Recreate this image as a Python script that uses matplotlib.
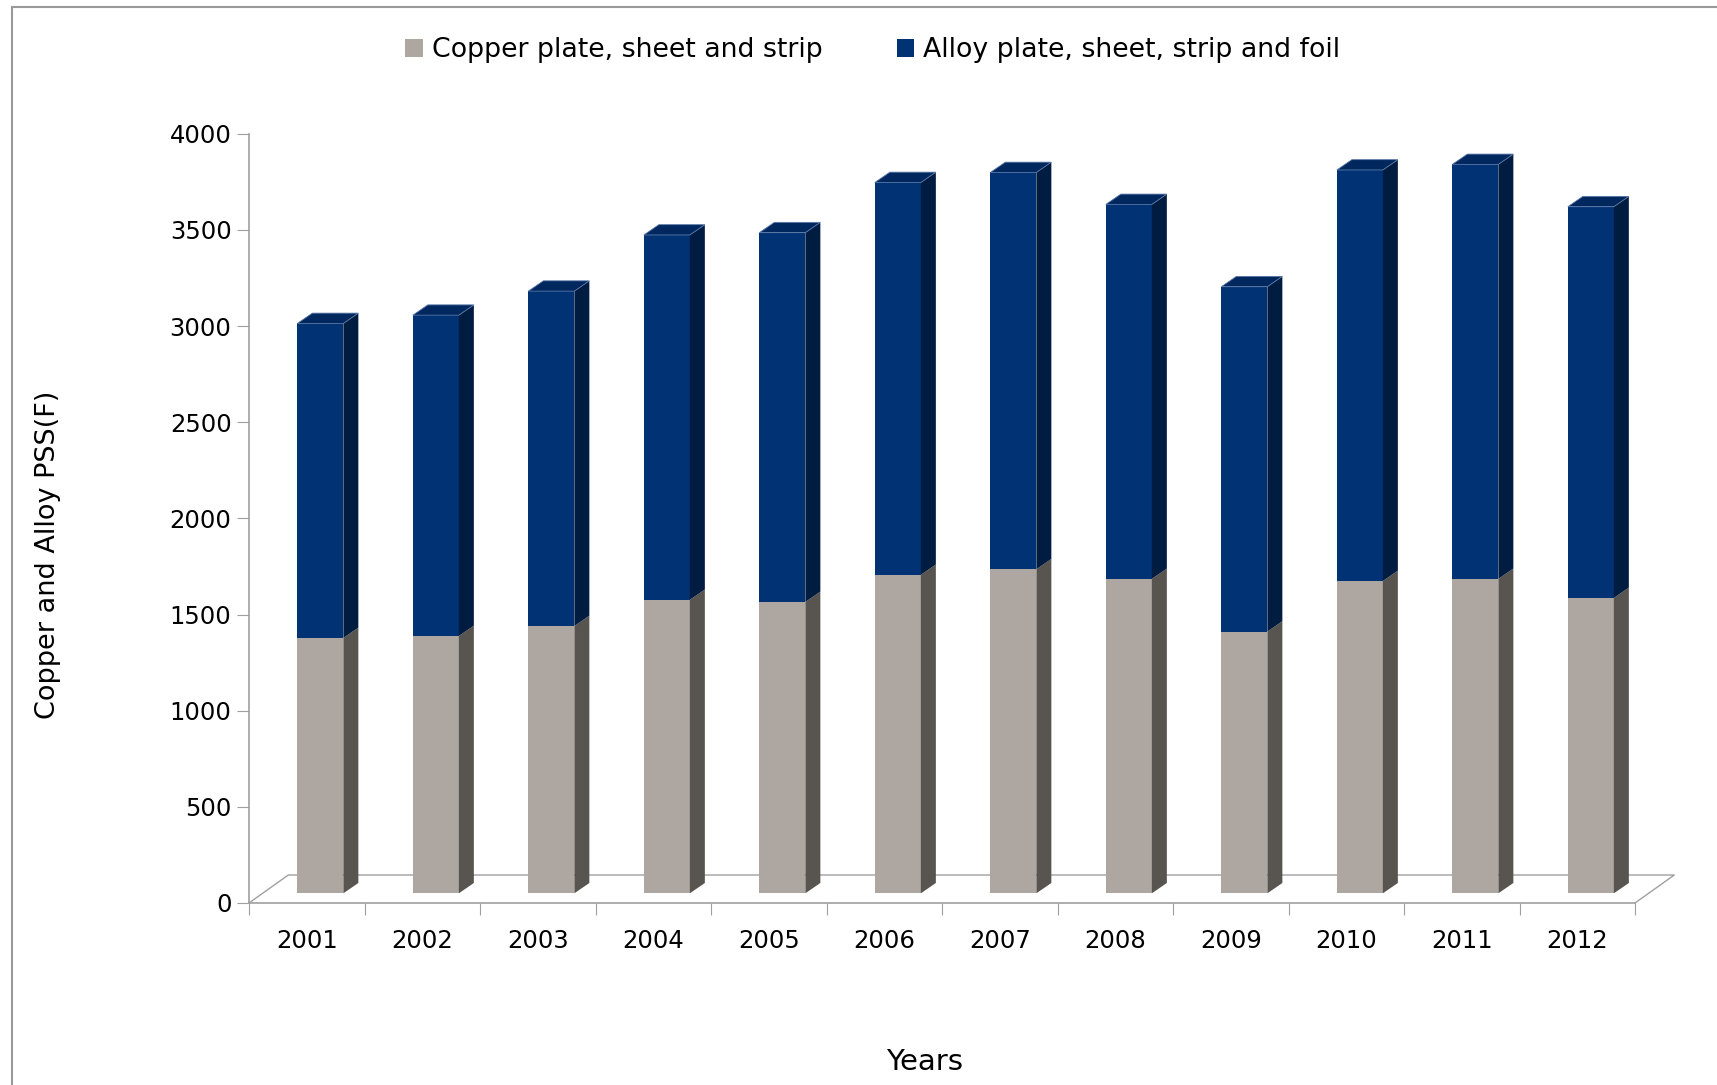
import matplotlib.pyplot as plt
from matplotlib.patches import Polygon, Patch
from matplotlib.lines import Line2D

# values
years = ['2001', '2002', '2003', '2004', '2005', '2006',
         '2007', '2008', '2009', '2010', '2011', '2012']
copper = [1328, 1338, 1390, 1526, 1515, 1656, 1685, 1635, 1361, 1624, 1635, 1536]
alloy = [1635, 1668, 1741, 1897, 1920, 2040, 2063, 1947, 1793, 2137, 2155, 2034]
yticks = [0, 500, 1000, 1500, 2000, 2500, 3000, 3500, 4000]

plt.rcParams['font.family'] = ['DejaVu Sans']

c_front, c_side = '#aea7a1', '#58544f'
a_front, a_side, a_top = '#003274', '#001c41', '#00285e'
grey = '#a0a0a0'

W, H = 1717, 1085
fig = plt.figure(figsize=(W / 100, H / 100), dpi=100)
ax = fig.add_axes([249 / W, 182 / H, 1386 / W, 769.3 / H])
n = len(years)
ax.set_xlim(0, n)
ax.set_ylim(0, 4000)

# pixel -> data units, for the fake 3d depth
p0 = ax.transData.transform((0, 0))
p1 = ax.transData.transform((1, 1000))
px_x = p1[0] - p0[0]
px_y = (p1[1] - p0[1]) / 1000


def off(dx, dy):
    return dx / px_x, dy / px_y


fdx, fdy = off(39.3, 28)      # floor depth
fx, fy = off(13.6, 9.7)       # bar front face position
bx, by = off(15, 10.3)        # bar depth
w = 46 / px_x

# floor outline
ax.plot([0, fdx, n + fdx, n], [0, fdy, fdy, 0], color=grey, lw=1, clip_on=False, zorder=1)

x = [i + 0.5 + fx for i in range(n)]
ax.bar(x, copper, width=w, bottom=fy, color=c_front, zorder=3)
tops_c = [fy + c for c in copper]
ax.bar(x, alloy, width=w, bottom=tops_c, color=a_front, zorder=3)

for i in range(n):
    xl = x[i] - w / 2
    xr = x[i] + w / 2
    c0 = fy
    c1 = fy + copper[i]
    a1 = c1 + alloy[i]
    ax.add_patch(Polygon([(xr, c0), (xr + bx, c0 + by), (xr + bx, c1 + by), (xr, c1)],
                         closed=True, fc=c_side, ec='none', zorder=3, clip_on=False))
    ax.add_patch(Polygon([(xr, c1), (xr + bx, c1 + by), (xr + bx, a1 + by), (xr, a1)],
                         closed=True, fc=a_side, ec='none', zorder=3, clip_on=False))
    ax.add_patch(Polygon([(xl, a1), (xr, a1), (xr + bx, a1 + by), (xl + bx, a1 + by)],
                         closed=True, fc=a_top, ec='#5a78a8', lw=0.6, zorder=3, clip_on=False))

for s in ['top', 'right']:
    ax.spines[s].set_visible(False)
for s in ['left', 'bottom']:
    ax.spines[s].set_color(grey)
    ax.spines[s].set_linewidth(1.2)

ax.set_yticks(yticks)
ax.tick_params(axis='y', direction='out', length=8.6, color=grey, labelsize=17.5, pad=4)
ax.set_xticks(range(n + 1))
ax.set_xticklabels([])
ax.tick_params(axis='x', which='major', direction='out', length=8.6, color=grey)
ax.set_xticks([i + 0.5 for i in range(n)], minor=True)
ax.set_xticklabels(years, minor=True)
ax.tick_params(axis='x', which='minor', length=0, labelsize=17.5, pad=19)

fig.text(48 / W, 1 - 555 / H, 'Copper and Alloy PSS(F)', rotation=90,
         ha='center', va='center', fontsize=19.5)
fig.text(925 / W, 1 - 1062 / H, 'Years', ha='center', va='center', fontsize=21)

handles = [Patch(fc=c_front, ec='none', label='Copper plate, sheet and strip'),
           Patch(fc=a_front, ec='none', label='Alloy plate, sheet, strip and foil')]
fig.legend(handles=handles, loc='center', bbox_to_anchor=(873 / W, 1 - 50 / H),
           ncol=2, frameon=False, fontsize=19.3, handlelength=0.65, handleheight=0.65,
           handletextpad=0.35, columnspacing=2.75)

# outer frame (top and left edges visible in the crop)
fig.add_artist(Line2D([12 / W, 1], [1 - 7 / H, 1 - 7 / H], color='#999999', lw=1.5))
fig.add_artist(Line2D([12 / W, 12 / W], [0, 1 - 7 / H], color='#999999', lw=1.5))

fig.savefig('out.png', dpi=100)
